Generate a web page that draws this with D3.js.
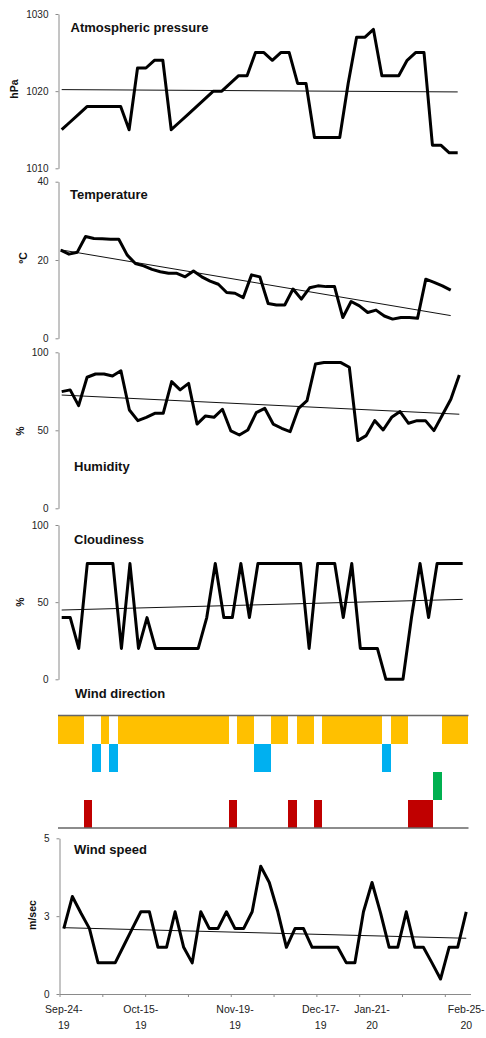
<!DOCTYPE html>
<html>
<head>
    <meta charset="utf-8">
    <title>Weather panels</title>
    <script src="https://cdn.jsdelivr.net/npm/d3@7"></script>
    <style>
        body { margin: 0; background: #fff; }
        svg { display: block; font-family: "Liberation Sans", Arial, sans-serif; }
    </style>
</head>
<body>
<svg width="486" height="1038"></svg>
<script>
    var pressure = [1015, 1016, 1017, 1018, 1018, 1018, 1018, 1018, 1015, 1023, 1023, 1024, 1024, 1015, 1016, 1017,
        1018, 1019, 1020, 1020, 1021, 1022, 1022, 1025, 1025, 1024, 1025, 1025, 1021, 1021, 1014, 1014,
        1014, 1014, 1021, 1027, 1027, 1028, 1022, 1022, 1022, 1024, 1025, 1025, 1013, 1013, 1012, 1012];
    var temperature = [22.5, 21.5, 22.0, 26.0, 25.5, 25.4, 25.3, 25.3, 21.3, 19.1, 18.5, 17.6, 17.0, 16.6, 16.6, 15.7,
        17.2, 15.7, 14.6, 13.8, 11.7, 11.5, 10.4, 16.2, 15.7, 8.9, 8.5, 8.5, 12.6, 10.0, 12.9, 13.4,
        13.2, 13.2, 5.3, 9.4, 8.3, 6.6, 7.2, 5.7, 4.9, 5.3, 5.3, 5.1, 15.1, 14.3, 13.4, 12.3];
    var humidity = [74.8, 75.9, 65.8, 84, 86.1, 86.1, 84.8, 88.2, 63, 56.2, 58.3, 60.9, 60.9, 81.2, 75.9, 80.1,
        54, 59.2, 58.3, 63.5, 49.6, 47, 50.2, 61.3, 64.1, 54, 51.3, 49.1, 64.1, 69, 92.5, 93.4,
        93.4, 93.4, 90.4, 43.4, 46.6, 56.2, 50.2, 58.3, 62, 54.5, 56.2, 56.2, 49.8, 59.8, 69.9, 85.5];
    var cloudiness = [40, 40, 20, 75, 75, 75, 75, 20, 75, 20, 40, 20, 20, 20, 20, 20,
        20, 40, 75, 40, 40, 75, 40, 75, 75, 75, 75, 75, 75, 20, 75, 75,
        75, 40, 75, 20, 20, 20, 0, 0, 0, 40, 75, 40, 75, 75, 75, 75];
    var windSpeed = [2.1, 3.13, 2.6, 2.1, 1.0, 1.0, 1.0, 1.55, 2.1, 2.64, 2.64, 1.5, 1.5, 2.64, 1.5, 1.0,
        2.64, 2.1, 2.1, 2.64, 2.1, 2.1, 2.64, 4.1, 3.58, 2.64, 1.5, 2.1, 2.1, 1.5, 1.5, 1.5,
        1.5, 1.0, 1.0, 2.64, 3.58, 2.6, 1.5, 1.5, 2.64, 1.5, 1.5, 1.0, 0.48, 1.5, 1.5, 2.64];
    // wind direction class per observation (row 0..3)
    var windDir = [0, 0, 0, 3, 1, 0, 1, 0, 0, 0, 0, 0, 0, 0, 0, 0,
        0, 0, 0, 0, 3, 0, 0, 1, 1, 0, 0, 3, 0, 0, 3, 0,
        0, 0, 0, 0, 0, 0, 1, 0, 0, 3, 3, 3, 2, 0, 0, 0];
    var dirColors = ["#FFC000", "#00B0F0", "#00B050", "#C00000"];

    // linear trend lines: value at first and last observation, as drawn
    var pressureTrend = [1020.2, 1019.9];
    var tempTrend = [22.6, 5.8];
    var humidityTrend = [72.6, 60.3];
    var cloudTrend = [44.9, 51.8];
    var speedTrend = [2.13, 1.79];

    // y ticks
    var pressureTicks = [1010, 1020, 1030];
    var tempTicks = [0, 20, 40];
    var pctTicks = [0, 50, 100];
    var speedTicks = [0, 2.5, 5];

    // x labels (observation index, two text lines)
    var dateIdx = [0, 9, 20, 30, 36, 47];
    var dateLabels = [["Sep-24-", "19"], ["Oct-15-", "19"], ["Nov-19-", "19"], ["Dec-17-", "19"], ["Jan-21-", "20"], ["Feb-25-", "20"]];

    var svg = d3.select("svg");
    var n = pressure.length;

    // layout of each line panel
    var panels = [
        { title: "Atmospheric pressure", unit: "hPa", vals: pressure, trend: pressureTrend, dom: [1010, 1030], ticks: pressureTicks,
          top: 14, bottom: 168.3, x0: 61.7, x1: 457.7, axisX: 58.5, tx: 70.5, ty: 31.5, ux: 14, uy: 89 },
        { title: "Temperature", unit: "ºC", vals: temperature, trend: tempTrend, dom: [0, 40], ticks: tempTicks,
          top: 181.7, bottom: 338.3, x0: 60.7, x1: 450.7, axisX: 58.5, tx: 70, ty: 198.5, ux: 23, uy: 258 },
        { title: "Humidity", unit: "%", vals: humidity, trend: humidityTrend, dom: [0, 100], ticks: pctTicks,
          top: 352.3, bottom: 508.3, x0: 61.7, x1: 459.3, axisX: 58.5, tx: 74, ty: 470.5, ux: 20, uy: 431 },
        { title: "Cloudiness", unit: "%", vals: cloudiness, trend: cloudTrend, dom: [0, 100], ticks: pctTicks,
          top: 525, bottom: 679.3, x0: 61.7, x1: 462.7, axisX: 58.5, tx: 74, ty: 544, ux: 20, uy: 602 }
    ];

    function drawPanel(p, x) {
        var y = d3.scaleLinear().domain(p.dom).range([p.bottom, p.top]);
        var g = svg.append("g");

        var ax = g.append("g")
            .attr("transform", "translate(" + p.axisX + ",0)")
            .call(d3.axisLeft(y).tickValues(p.ticks).tickSize(3).tickSizeOuter(0).tickPadding(7)
                .tickFormat(p.fmt || d3.format("d")));
        ax.select(".domain").attr("stroke", "#8a8a8a");
        ax.selectAll(".tick line").attr("stroke", "#8a8a8a");
        ax.selectAll(".tick text").attr("font-size", 10).attr("fill", "#222")
            .attr("font-family", "'Liberation Sans', Arial, sans-serif");

        var tl = [[0, p.trend[0]], [p.vals.length - 1, p.trend[1]]];
        g.append("path")
            .attr("d", d3.line().x(function (d) { return x(d[0]); }).y(function (d) { return y(d[1]); })(tl))
            .attr("fill", "none").attr("stroke", "#111").attr("stroke-width", 1);

        g.append("path")
            .datum(p.vals)
            .attr("d", d3.line().x(function (d, i) { return x(i); }).y(function (d) { return y(d); }))
            .attr("fill", "none").attr("stroke", "#000").attr("stroke-width", 3)
            .attr("stroke-linejoin", "round");

        g.append("text").attr("x", p.tx).attr("y", p.ty)
            .attr("font-size", 13).attr("font-weight", "bold").attr("fill", "#111")
            .text(p.title);

        g.append("text")
            .attr("transform", "translate(" + p.ux + "," + p.uy + ") rotate(-90)")
            .attr("text-anchor", "middle").attr("dy", "0.35em")
            .attr("font-size", 10.5).attr("font-weight", "bold").attr("fill", "#111")
            .text(p.unit);
        return y;
    }

    panels.forEach(function (p) {
        var x = d3.scaleLinear().domain([0, n - 1]).range([p.x0, p.x1]);
        drawPanel(p, x);
    });

    // wind direction
    var xd = d3.scaleLinear().domain([0, n]).range([58, 467.5]);
    var rows = d3.scaleBand().domain(d3.range(dirColors.length)).range([715.5, 828]);
    var wd = svg.append("g");
    wd.selectAll("rect")
        .data(windDir)
        .join("rect")
        .attr("x", function (d, i) { return xd(i); })
        .attr("width", function (d, i) { return xd(i + 1) - xd(i); })
        .attr("y", function (d) { return rows(d); })
        .attr("height", rows.bandwidth())
        .attr("fill", function (d) { return dirColors[d]; })
        .attr("shape-rendering", "crispEdges");
    wd.selectAll("line.edge")
        .data([rows.range()[0], rows.range()[1]])
        .join("line")
        .attr("class", "edge")
        .attr("x1", xd(0)).attr("x2", xd(n) + 1)
        .attr("y1", function (d) { return d; }).attr("y2", function (d) { return d; })
        .attr("stroke", "#666").attr("stroke-width", 1.5);
    wd.append("text").attr("x", 75).attr("y", 697.5)
        .attr("font-size", 13).attr("font-weight", "bold").attr("fill", "#111")
        .text("Wind direction");

    // wind speed with the date axis
    var xs = d3.scaleLinear().domain([0, n]).range([59.5, 470.5]);
    var ws = {
        title: "Wind speed", unit: "m/sec", vals: windSpeed, trend: speedTrend, dom: [0, 5], ticks: speedTicks,
        fmt: d3.format(".0f"), top: 838.3, bottom: 994, axisX: 59.5, tx: 74, ty: 854, ux: 32, uy: 915
    };
    drawPanel(ws, function (i) { return xs(i + 0.5); });

    var xa = svg.append("g")
        .attr("transform", "translate(0,994)")
        .call(d3.axisBottom(xs).tickValues(d3.range(0, n, 5)).tickSize(3).tickSizeOuter(0).tickFormat(""));
    xa.select(".domain").attr("stroke", "#8a8a8a");
    xa.selectAll(".tick line").attr("stroke", "#8a8a8a");

    var lab = svg.append("g").selectAll("text")
        .data(dateIdx)
        .join("text")
        .attr("x", function (d) { return xs(d + 0.5); })
        .attr("y", 1012.5)
        .attr("text-anchor", "middle")
        .attr("font-size", 10.5).attr("fill", "#222");
    lab.append("tspan").attr("x", function (d) { return xs(d + 0.5); })
        .text(function (d, i) { return dateLabels[i][0]; });
    lab.append("tspan").attr("x", function (d) { return xs(d + 0.5); }).attr("dy", 16.5)
        .text(function (d, i) { return dateLabels[i][1]; });
</script>
</body>
</html>
